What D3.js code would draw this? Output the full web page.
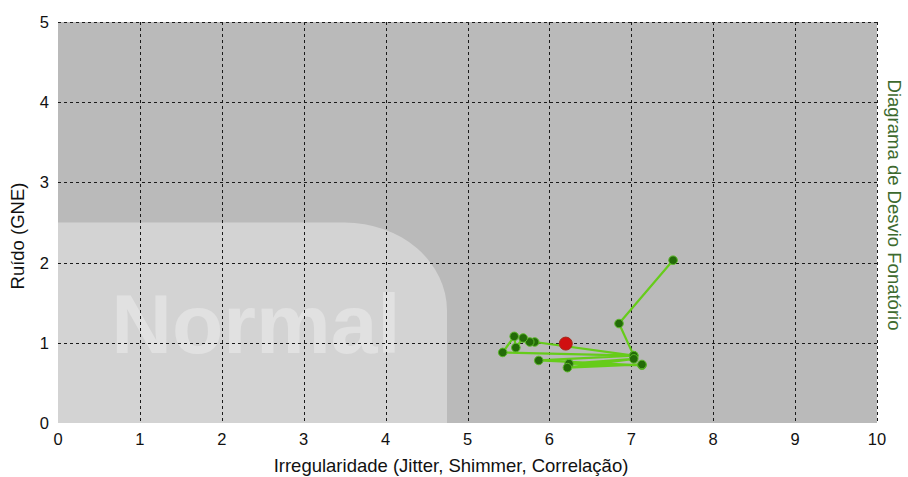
<!DOCTYPE html>
<html>
<head>
<meta charset="utf-8">
<script src="https://cdn.jsdelivr.net/npm/d3@7"></script>
<style>
  html, body { margin: 0; padding: 0; background: #ffffff; }
  svg { display: block; font-family: "Liberation Sans", Arial, Helvetica, sans-serif; }
</style>
</head>
<body>
<svg id="chart" width="908" height="477"></svg>
<script>
  const xTicks = [0, 1, 2, 3, 4, 5, 6, 7, 8, 9, 10];
  const yTicks = [0, 1, 2, 3, 4, 5];

  // trajectory of measurements (irregularity, noise), in drawing order
  const trackX = [7.51, 6.85, 7.03, 5.82, 5.76, 5.68, 5.59, 5.57, 5.43, 7.03, 5.87, 7.13, 6.24, 7.03, 6.22, 7.13];
  const trackY = [2.03, 1.24, 0.84, 1.01, 1.01, 1.06, 0.94, 1.08, 0.88, 0.84, 0.78, 0.72, 0.74, 0.80, 0.69, 0.73];

  // mean point
  const meanPoint = [6.20, 0.99];

  // normal zone limits
  const normalMaxX = 4.75;
  const normalMaxY = 2.5;
  const normalLabel = "Normal";

  const xTitle = "Irregularidade (Jitter, Shimmer, Correlação)";
  const yTitle = "Ruído (GNE)";
  const sideTitle = "Diagrama de Desvio Fonatório";

  (function () {
    const plotLeft = 58, plotRight = 877, plotTop = 22, plotBottom = 423;

    const x = d3.scaleLinear().domain([0, 10]).range([plotLeft, plotRight]);
    const y = d3.scaleLinear().domain([0, 5]).range([plotBottom, plotTop]);

    const svg = d3.select("#chart");

    svg.append("rect")
      .attr("x", plotLeft)
      .attr("y", plotTop)
      .attr("width", plotRight - plotLeft)
      .attr("height", plotBottom - plotTop)
      .attr("fill", "#bababa");

    // normal zone with rounded top-right corner
    const rx = x(normalMaxX) - x(normalMaxX - 1.25);
    const ry = y(normalMaxY - 1.1) - y(normalMaxY);
    const zx1 = x(normalMaxX), zy1 = y(normalMaxY);
    svg.append("path")
      .attr("d", `M${x(0)},${plotBottom} L${x(0)},${zy1} L${zx1 - rx},${zy1} ` +
        `A${rx},${ry} 0 0 1 ${zx1},${zy1 + ry} L${zx1},${plotBottom} Z`)
      .attr("fill", "#d3d3d3");

    svg.append("text")
      .attr("x", 256)
      .attr("y", 353)
      .attr("text-anchor", "middle")
      .attr("font-size", 84)
      .attr("font-weight", "bold")
      .attr("fill", "#e1e1e1")
      .text(normalLabel);

    const grid = svg.append("g")
      .attr("stroke", "#1a1a1a")
      .attr("stroke-width", 1)
      .attr("stroke-dasharray", "3,3")
      .attr("shape-rendering", "crispEdges");

    grid.selectAll("line.v")
      .data(xTicks.filter((d) => d > 0))
      .join("line")
      .attr("class", "v")
      .attr("x1", (d) => Math.round(x(d)) + 0.5)
      .attr("x2", (d) => Math.round(x(d)) + 0.5)
      .attr("y1", plotTop)
      .attr("y2", plotBottom);

    grid.selectAll("line.h")
      .data(yTicks.filter((d) => d > 0))
      .join("line")
      .attr("class", "h")
      .attr("x1", plotLeft)
      .attr("x2", plotRight)
      .attr("y1", (d) => Math.round(y(d)) + 0.5)
      .attr("y2", (d) => Math.round(y(d)) + 0.5);

    // tick labels
    svg.append("g")
      .selectAll("text")
      .data(xTicks)
      .join("text")
      .attr("x", (d) => x(d))
      .attr("y", 445)
      .attr("text-anchor", "middle")
      .attr("font-size", 16.5)
      .attr("fill", "#111")
      .text((d) => d);

    svg.append("g")
      .selectAll("text")
      .data(yTicks)
      .join("text")
      .attr("x", 49)
      .attr("y", (d) => y(d) + 6)
      .attr("text-anchor", "end")
      .attr("font-size", 16.5)
      .attr("fill", "#111")
      .text((d) => d);

    svg.append("text")
      .attr("x", 451)
      .attr("y", 472)
      .attr("text-anchor", "middle")
      .attr("font-size", 18.5)
      .attr("fill", "#111")
      .text(xTitle);

    svg.append("text")
      .attr("transform", "translate(24, 236) rotate(-90)")
      .attr("text-anchor", "middle")
      .attr("font-size", 18.5)
      .attr("fill", "#111")
      .text(yTitle);

    svg.append("text")
      .attr("transform", "translate(888, 205) rotate(90)")
      .attr("text-anchor", "middle")
      .attr("font-size", 18.5)
      .attr("fill", "#3d6a2e")
      .text(sideTitle);

    // trajectory
    const track = trackX.map((d, i) => [d, trackY[i]]);
    const line = d3.line().x((d) => x(d[0])).y((d) => y(d[1]));

    svg.append("path")
      .datum(track)
      .attr("d", line)
      .attr("fill", "none")
      .attr("stroke", "#66cc1a")
      .attr("stroke-width", 2.2)
      .attr("stroke-linejoin", "round");

    svg.append("g")
      .selectAll("circle")
      .data(track)
      .join("circle")
      .attr("cx", (d) => x(d[0]))
      .attr("cy", (d) => y(d[1]))
      .attr("r", 4.3)
      .attr("fill", "#236b08")
      .attr("stroke", "#5cb82a")
      .attr("stroke-width", 1);

    svg.append("circle")
      .attr("cx", x(meanPoint[0]))
      .attr("cy", y(meanPoint[1]))
      .attr("r", 6.5)
      .attr("fill", "#d01010")
      .attr("stroke", "#a52a1a")
      .attr("stroke-width", 1);
  }());
</script>
</body>
</html>
